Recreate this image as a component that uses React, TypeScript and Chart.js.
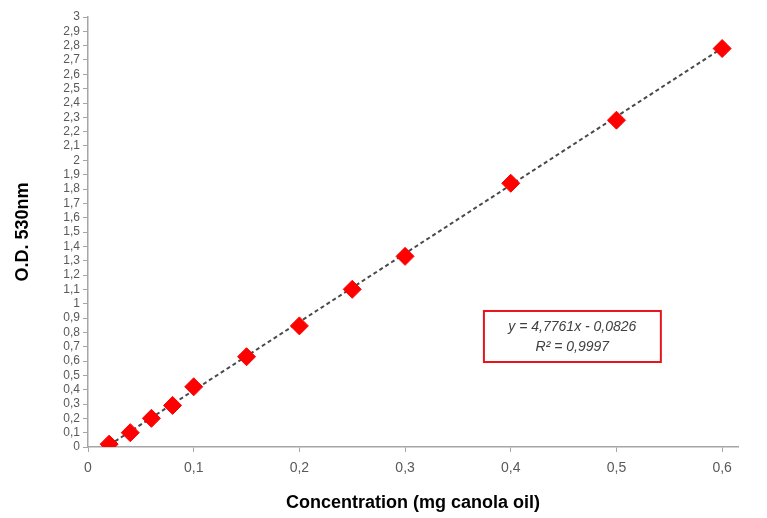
import React, { useEffect, useRef } from "react";
import { Chart, registerables } from "chart.js";

Chart.register(...registerables);

const concentrations = [0.02, 0.04, 0.06, 0.08, 0.1, 0.15, 0.2, 0.25, 0.3, 0.4, 0.5, 0.6];
const odValues = [0.02, 0.1, 0.2, 0.29, 0.42, 0.63, 0.845, 1.1, 1.33, 1.84, 2.28, 2.78];
const trendX = [0.02, 0.6];
const trendY = [0.013, 2.783];
const xTickValues = [0, 0.1, 0.2, 0.3, 0.4, 0.5, 0.6];
const equationLines = ["y = 4,7761x - 0,0826", "R² = 0,9997"];
const equationBox = { x0: 0.3746, x1: 0.542, y0: 0.949, y1: 0.593 };

const fmt = (v: number) => {
  const r = Math.round(v * 10) / 10;
  return String(r).replace(".", ",");
};

const equationPlugin = {
  id: "equationBox",
  afterDraw(chart: any) {
    const { ctx, scales } = chart;
    const l = scales.x.getPixelForValue(equationBox.x0);
    const r = scales.x.getPixelForValue(equationBox.x1);
    const t = scales.y.getPixelForValue(equationBox.y0);
    const b = scales.y.getPixelForValue(equationBox.y1);
    ctx.save();
    ctx.fillStyle = "#ffffff";
    ctx.fillRect(l, t, r - l, b - t);
    ctx.strokeStyle = "#e8141c";
    ctx.lineWidth = 2;
    ctx.strokeRect(l, t, r - l, b - t);
    ctx.fillStyle = "#404040";
    ctx.font = "italic 14px 'Liberation Sans', Arial, sans-serif";
    ctx.textAlign = "center";
    ctx.textBaseline = "middle";
    const cx = (l + r) / 2;
    const h = b - t;
    ctx.fillText(equationLines[0], cx, t + h * 0.32);
    ctx.fillText(equationLines[1], cx, t + h * 0.7);
    ctx.restore();
  },
};

export default function App() {
  const ref = useRef<HTMLCanvasElement>(null);
  useEffect(() => {
    if (!ref.current) return;
    const font = "'Liberation Sans', Arial, sans-serif";
    const chart = new Chart(ref.current, {
      type: "scatter",
      data: {
        datasets: [
          {
            type: "line",
            label: "trend",
            data: trendX.map((x, i) => ({ x, y: trendY[i] })),
            borderColor: "#4a4a4a",
            borderWidth: 2,
            borderDash: [4, 3],
            pointRadius: 0,
            fill: false,
            order: 2,
          } as any,
          {
            label: "OD",
            data: concentrations.map((x, i) => ({ x, y: odValues[i] })),
            pointStyle: "rectRot",
            pointRadius: 9,
            backgroundColor: "#ff0000",
            borderColor: "#ff0000",
            borderWidth: 1,
            order: 1,
          },
        ],
      },
      options: {
        animation: false,
        responsive: false,
        layout: { padding: { top: 17, right: 29, left: 0, bottom: 0 } },
        plugins: { legend: { display: false }, tooltip: { enabled: false } },
        scales: {
          x: {
            type: "linear",
            min: 0,
            max: 0.615,
            afterBuildTicks: (s: any) => {
              s.ticks = xTickValues.map((v) => ({ value: v }));
            },
            afterFit: (s: any) => {
              s.height = 71;
            },
            ticks: {
              stepSize: 0.1,
              color: "#595959",
              font: { family: font, size: 14 },
              padding: 8,
              callback: (v: any) => fmt(Number(v)),
              maxRotation: 0,
              autoSkip: false,
            },
            grid: { drawOnChartArea: false, tickLength: 5, color: "#a6a6a6" },
            border: { color: "#a6a6a6", width: 1.5 },
            title: {
              display: true,
              text: "Concentration (mg canola oil)",
              color: "#000000",
              font: { family: font, size: 18, weight: "bold" },
              padding: { top: 4 },
            },
          },
          y: {
            type: "linear",
            min: 0,
            max: 3,
            afterFit: (s: any) => {
              s.width = 88;
            },
            ticks: {
              stepSize: 0.1,
              autoSkip: false,
              color: "#595959",
              font: { family: font, size: 12 },
              padding: 3,
              callback: (v: any) => fmt(Number(v)),
            },
            grid: { drawOnChartArea: false, tickLength: 5, color: "#a6a6a6" },
            border: { color: "#a6a6a6", width: 1.5 },
            title: {
              display: true,
              text: "O.D. 530nm",
              color: "#000000",
              font: { family: font, size: 18, weight: "bold" },
              padding: { top: 12, bottom: 0 },
            },
          },
        },
      },
      plugins: [equationPlugin],
    } as any);
    return () => chart.destroy();
  }, []);
  return (
    <div style={{ position: "fixed", left: 0, top: 0, width: 767, height: 518, background: "#fff" }}>
      <canvas ref={ref} width={767} height={518} style={{ width: 767, height: 518, display: "block" }} />
    </div>
  );
}
